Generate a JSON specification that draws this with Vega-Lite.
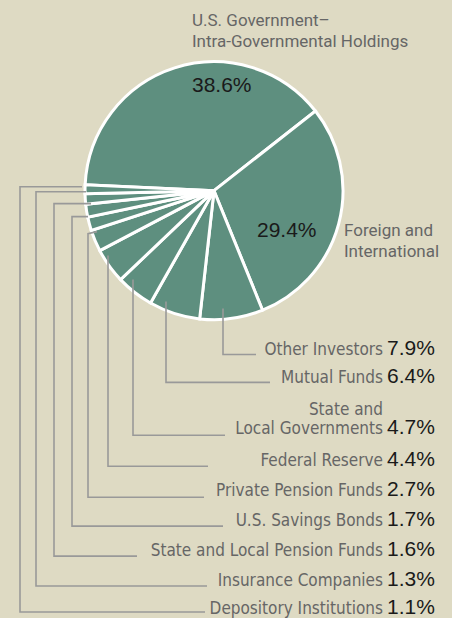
{
  "$schema": "https://vega.github.io/schema/vega-lite/v6.json",
  "width": 452,
  "height": 618,
  "autosize": {"type": "fit", "contains": "padding"},
  "padding": 0,
  "background": "#DEDAC3",
  "config": {"view": {"stroke": null}},
  "datasets": {
    "slices": [
      {"name": "U.S. Government–Intra-Governmental Holdings", "value": 38.6, "order": 1},
      {"name": "Foreign and International", "value": 29.4, "order": 2},
      {"name": "Other Investors", "value": 7.9, "order": 3},
      {"name": "Mutual Funds", "value": 6.4, "order": 4},
      {"name": "State and Local Governments", "value": 4.7, "order": 5},
      {"name": "Federal Reserve", "value": 4.4, "order": 6},
      {"name": "Private Pension Funds", "value": 2.7, "order": 7},
      {"name": "U.S. Savings Bonds", "value": 1.7, "order": 8},
      {"name": "State and Local Pension Funds", "value": 1.6, "order": 9},
      {"name": "Insurance Companies", "value": 1.3, "order": 10},
      {"name": "Depository Institutions", "value": 1.1, "order": 11}
    ],
    "leaders": [
      {"id": 1, "step": 1, "x": 223, "y": 309}, {"id": 1, "step": 2, "x": 223, "y": 355}, {"id": 1, "step": 3, "x": 256, "y": 355},
      {"id": 2, "step": 1, "x": 166, "y": 302}, {"id": 2, "step": 2, "x": 166, "y": 383}, {"id": 2, "step": 3, "x": 270, "y": 383},
      {"id": 3, "step": 1, "x": 133, "y": 280}, {"id": 3, "step": 2, "x": 133, "y": 436}, {"id": 3, "step": 3, "x": 225, "y": 436},
      {"id": 4, "step": 1, "x": 108, "y": 256}, {"id": 4, "step": 2, "x": 108, "y": 467}, {"id": 4, "step": 3, "x": 208, "y": 467},
      {"id": 5, "step": 1, "x": 97, "y": 232}, {"id": 5, "step": 2, "x": 88, "y": 234}, {"id": 5, "step": 3, "x": 88, "y": 498}, {"id": 5, "step": 4, "x": 204, "y": 498},
      {"id": 6, "step": 1, "x": 88, "y": 217}, {"id": 6, "step": 2, "x": 72, "y": 217}, {"id": 6, "step": 3, "x": 72, "y": 527}, {"id": 6, "step": 4, "x": 223, "y": 527},
      {"id": 7, "step": 1, "x": 91, "y": 204}, {"id": 7, "step": 2, "x": 54, "y": 204}, {"id": 7, "step": 3, "x": 54, "y": 557}, {"id": 7, "step": 4, "x": 137, "y": 557},
      {"id": 8, "step": 1, "x": 86, "y": 192}, {"id": 8, "step": 2, "x": 36, "y": 192}, {"id": 8, "step": 3, "x": 36, "y": 587}, {"id": 8, "step": 4, "x": 207, "y": 587},
      {"id": 9, "step": 1, "x": 82, "y": 187}, {"id": 9, "step": 2, "x": 20, "y": 187}, {"id": 9, "step": 3, "x": 20, "y": 613}, {"id": 9, "step": 4, "x": 205, "y": 613}
    ],
    "labels": [
      {"name": ["Other Investors"], "pct": "7.9%", "ny": 356, "py": 356},
      {"name": ["Mutual Funds"], "pct": "6.4%", "ny": 384, "py": 384},
      {"name": ["State and", "Local Governments"], "pct": "4.7%", "ny": 416, "py": 435},
      {"name": ["Federal Reserve"], "pct": "4.4%", "ny": 467, "py": 467},
      {"name": ["Private Pension Funds"], "pct": "2.7%", "ny": 497, "py": 497},
      {"name": ["U.S. Savings Bonds"], "pct": "1.7%", "ny": 527, "py": 527},
      {"name": ["State and Local Pension Funds"], "pct": "1.6%", "ny": 557, "py": 557},
      {"name": ["Insurance Companies"], "pct": "1.3%", "ny": 587, "py": 587},
      {"name": ["Depository Institutions"], "pct": "1.1%", "ny": 615, "py": 615}
    ],
    "notes": [
      {"text": ["U.S. Government–", "Intra-Governmental Holdings"], "x": 192, "y": 26},
      {"text": ["Foreign and", "International"], "x": 344, "y": 236}
    ],
    "inside": [
      {"text": "38.6%", "x": 192, "y": 92},
      {"text": "29.4%", "x": 257, "y": 237}
    ]
  },
  "layer": [
    {
      "data": {"name": "slices"},
      "mark": {"type": "arc", "outerRadius": 129, "stroke": "white", "strokeWidth": 3, "fill": "#5E8F7F"},
      "encoding": {
        "theta": {"field": "value", "type": "quantitative", "stack": true, "scale": {"range": [4.758, 11.041]}},
        "order": {"field": "order", "type": "quantitative"},
        "x": {"datum": 214, "type": "quantitative", "scale": {"domain": [0, 452], "nice": false, "zero": false}, "axis": null},
        "y": {"datum": 191, "type": "quantitative", "scale": {"domain": [0, 618], "nice": false, "zero": false, "reverse": true}, "axis": null}
      }
    },
    {
      "data": {"name": "leaders"},
      "mark": {"type": "line", "stroke": "#999999", "strokeWidth": 1.6, "interpolate": "linear"},
      "encoding": {
        "x": {"field": "x", "type": "quantitative", "axis": null},
        "y": {"field": "y", "type": "quantitative", "axis": null},
        "detail": {"field": "id"},
        "order": {"field": "step", "type": "quantitative"}
      }
    },
    {
      "data": {"name": "labels"},
      "mark": {"type": "text", "align": "right", "baseline": "alphabetic", "font": "DejaVu Sans Condensed", "fontSize": 17, "fill": "#666666", "lineHeight": 19},
      "encoding": {
        "text": {"field": "name"},
        "x": {"datum": 383, "type": "quantitative"},
        "y": {"field": "ny", "type": "quantitative"}
      }
    },
    {
      "data": {"name": "labels"},
      "mark": {"type": "text", "align": "left", "baseline": "alphabetic", "font": "Liberation Sans", "fontSize": 21, "fill": "#1a1a1a"},
      "encoding": {
        "text": {"field": "pct"},
        "x": {"datum": 387, "type": "quantitative"},
        "y": {"field": "py", "type": "quantitative"}
      }
    },
    {
      "data": {"name": "notes"},
      "mark": {"type": "text", "align": "left", "baseline": "alphabetic", "font": "Roboto", "fontSize": 17, "fill": "#666666", "lineHeight": 21},
      "encoding": {
        "text": {"field": "text"},
        "x": {"field": "x", "type": "quantitative"},
        "y": {"field": "y", "type": "quantitative"}
      }
    },
    {
      "data": {"name": "inside"},
      "mark": {"type": "text", "align": "left", "baseline": "alphabetic", "font": "Liberation Sans", "fontSize": 21, "fill": "#1a1a1a"},
      "encoding": {
        "text": {"field": "text"},
        "x": {"field": "x", "type": "quantitative"},
        "y": {"field": "y", "type": "quantitative"}
      }
    }
  ]
}
